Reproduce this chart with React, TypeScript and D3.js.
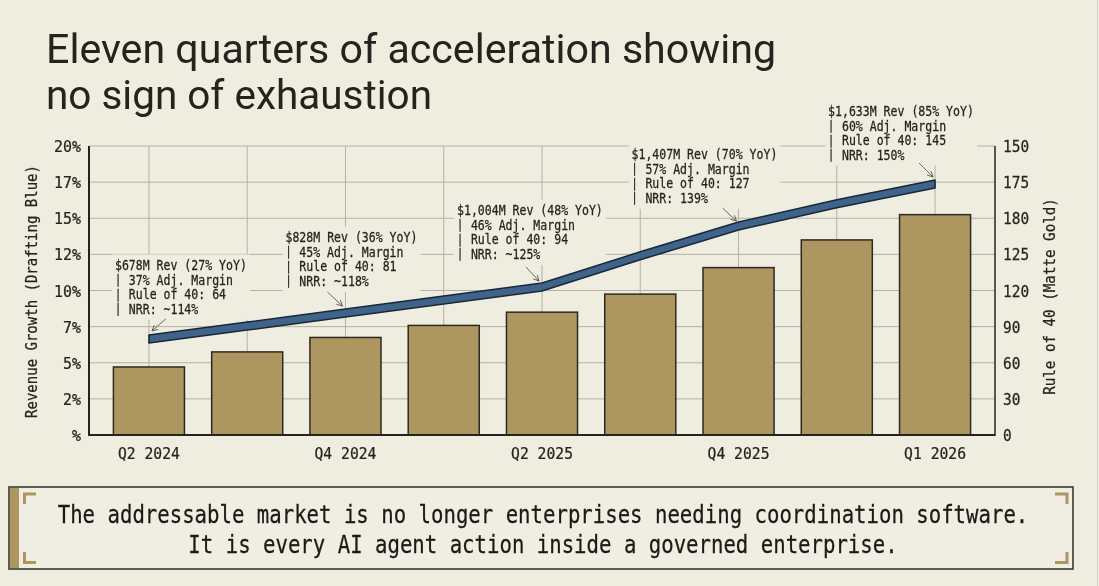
import { useEffect } from 'react'
import * as d3 from 'd3'

const quarters = ['Q2 2024', 'Q3 2024', 'Q4 2024', 'Q1 2025', 'Q2 2025', 'Q3 2025', 'Q4 2025', 'Q4b 2025', 'Q1 2026']
const shownQuarters = ['Q2 2024', 'Q4 2024', 'Q2 2025', 'Q4 2025', 'Q1 2026']

// gold bars read against the right axis, blue line against the left one
const ruleOf40 = [56.5, 69, 81, 91, 102, 117, 139, 162, 183]
const revenueGrowth = [6.65, 7.54, 8.44, 9.34, 10.24, 12.4, 14.46, 16.0, 17.37]

const leftTicks = [0, 2.5, 5, 7.5, 10, 12.5, 15, 17.5, 20]
const leftLabels = ['%', '2%', '5%', '7%', '10%', '12%', '15%', '17%', '20%']
const rightTicks = [0, 30, 60, 90, 120, 150, 180, 210, 240]
const rightLabels = ['0', '30', '60', '90', '120', '125', '180', '175', '150']

const calloutQuarters = ['Q2 2024', 'Q4 2024', 'Q2 2025', 'Q4 2025', 'Q1 2026']
const calloutLines = [
  ['$678M Rev (27% YoY)', '| 37% Adj. Margin', '| Rule of 40: 64', '| NRR: ~114%'],
  ['$828M Rev (36% YoY)', '| 45% Adj. Margin', '| Rule of 40: 81', '| NRR: ~118%'],
  ['$1,004M Rev (48% YoY)', '| 46% Adj. Margin', '| Rule of 40: 94', '| NRR: ~125%'],
  ['$1,407M Rev (70% YoY)', '| 57% Adj. Margin', '| Rule of 40: 127', '| NRR: 139%'],
  ['$1,633M Rev (85% YoY)', '| 60% Adj. Margin', '| Rule of 40: 145', '| NRR: 150%'],
]

const titleLines = ['Eleven quarters of acceleration showing', 'no sign of exhaustion']
const takeaway = [
  'The addressable market is no longer enterprises needing coordination software.',
  'It is every AI agent action inside a governed enterprise.',
]

// layout of the callouts relative to their point on the line
const calloutDx = [-34, -60, -85, -107, -107]
const calloutDy = [-69, -71, -72, -67, -68]
const arrowFrom = [[17, -20], [-18, -21], [-16, -20], [-16, -18], [-16, -21]]
const arrowTo = [[3, -8], [-3, -7], [-3, -6], [-2, -5], [-2, -7]]

const W = 1099
const H = 586
const plot = { left: 89, right: 995, top: 146, bottom: 435 }

const BG = '#efece0'
const INK = '#24241f'
const GRID = '#b4b2a5'
const GOLD = '#ae9660'
const BLUE = '#3f6389'
const NAVY = '#18283a'
const MONO = '"DejaVu Sans Mono", monospace'
const MONO_EM = 0.602

// glyphs in the picture are narrower than DejaVu Sans Mono, so squeeze them to a fixed advance
function Mono({ text, advance, x, y, rotate = 0, fontSize, fill = INK, ...rest }: any) {
  const sx = advance / (MONO_EM * fontSize)
  const piped = text.startsWith('| ')
  return (
    <text fontFamily={MONO} fontSize={fontSize} fill={fill} stroke={fill} strokeWidth={0.25}
      transform={`translate(${x},${y}) rotate(${rotate}) scale(${sx},1)`} {...rest}>
      {piped ? (
        <>
          <tspan fontSize={fontSize - 1.5} dy={-1.5}>|</tspan>
          <tspan dx={1.5 * MONO_EM} dy={1.5}>{text.slice(1)}</tspan>
        </>
      ) : text}
    </text>
  )
}

export default function App() {
  useEffect(() => {
    document.body.style.margin = '0'
  }, [])

  const x = d3.scaleBand<string>()
    .domain(quarters)
    .range([plot.left, plot.right])
    .paddingInner(0.277)
    .paddingOuter(0.2485)
  const cx = (q: string) => (x(q) as number) + x.bandwidth() / 2
  const yLeft = d3.scaleLinear().domain([0, 20]).range([plot.bottom, plot.top])
  const yRight = d3.scaleLinear().domain([0, 240]).range([plot.bottom, plot.top])

  const ribbon = d3.area<number>()
    .x((_, i) => cx(quarters[i]))
    .y0(d => yLeft(d) - 4)
    .y1(d => yLeft(d) + 4)

  return (
    <svg width={W} height={H} viewBox={`0 0 ${W} ${H}`}
      style={{ display: 'block', position: 'fixed', left: 0, top: 0, willChange: 'transform' }}>
      <defs>
        <marker id="head" viewBox="0 0 10 10" refX="9" refY="5" markerWidth="7" markerHeight="7" orient="auto">
          <path d="M1,1 L9,5 L1,9" fill="none" stroke="#55554e" strokeWidth="1.2" />
        </marker>
      </defs>
      <rect width={W} height={H} fill={BG} />
      <rect x={W - 2} width={1} height={H} fill="#d6d4ca" />

      {titleLines.map((t, i) => (
        <text key={t} x={46} y={63 + i * 46} fontFamily="Roboto, sans-serif" fontSize={40} fill={INK}
          textLength={i === 0 ? 730 : 386} lengthAdjust="spacingAndGlyphs">
          {t}
        </text>
      ))}

      {/* grid */}
      <g stroke={GRID} strokeWidth={1}>
        {leftTicks.slice(1).map(t => (
          <line key={t} x1={plot.left} x2={plot.right} y1={yLeft(t)} y2={yLeft(t)} />
        ))}
        {quarters.map(q => (
          <line key={q} x1={cx(q)} x2={cx(q)} y1={plot.top} y2={plot.bottom} />
        ))}
      </g>

      {/* callout text knocks the grid out behind it */}
      {calloutQuarters.map((q, i) => {
        const i0 = quarters.indexOf(q)
        const px = cx(q) + calloutDx[i]
        const py = yLeft(revenueGrowth[i0]) + calloutDy[i]
        const w = d3.max(calloutLines[i], l => l.length)! * 6.95
        return <rect key={q} x={px - 3} y={py - 15.5} width={w + 6} height={3 * 14.6 + 21.5} fill={BG} />
      })}

      {quarters.map((q, i) => (
        <rect key={q} x={x(q)} y={yRight(ruleOf40[i])} width={x.bandwidth()} height={plot.bottom - yRight(ruleOf40[i])}
          fill={GOLD} stroke="#2c2a20" strokeWidth={1.5} />
      ))}

      <path d={ribbon(revenueGrowth) as string} fill={BLUE} stroke={NAVY} strokeWidth={1.5} strokeLinejoin="round" />

      {calloutQuarters.map((q, i) => {
        const i0 = quarters.indexOf(q)
        const px = cx(q)
        const py = yLeft(revenueGrowth[i0])
        return (
          <g key={q}>
            <line x1={px + arrowFrom[i][0]} y1={py + arrowFrom[i][1]} x2={px + arrowTo[i][0]} y2={py + arrowTo[i][1]}
              stroke="#6b6b62" strokeWidth={1} markerEnd="url(#head)" />
            {calloutLines[i].map((l, j) => (
              <Mono key={j} text={l} advance={6.95} x={px + calloutDx[i]} y={py + calloutDy[i] + j * 14.6} fontSize={13.5} />
            ))}
          </g>
        )
      })}

      {/* axes */}
      <g stroke={INK} fill="none">
        <line x1={plot.left} x2={plot.left} y1={plot.top} y2={plot.bottom + 1} strokeWidth={2} />
        <line x1={plot.left} x2={plot.right} y1={plot.bottom} y2={plot.bottom} strokeWidth={2} />
        <line x1={plot.right} x2={plot.right} y1={plot.top} y2={plot.bottom + 1} strokeWidth={1.5} />
      </g>

      {leftTicks.map((t, i) => (
        <Mono key={t} text={leftLabels[i]} advance={9} x={81} y={yLeft(t) + 6} textAnchor="end" fontSize={16} />
      ))}
      {rightTicks.map((t, i) => (
        <Mono key={t} text={rightLabels[i]} advance={8.7} x={1003} y={yRight(t) + 6} fontSize={16} />
      ))}
      {shownQuarters.map(q => (
        <Mono key={q} text={q} advance={8.85} x={cx(q)} y={459} textAnchor="middle" fontSize={16} />
      ))}

      <Mono text="Revenue Growth (Drafting Blue)" advance={8.43} x={37} y={291.5} rotate={-90} textAnchor="middle" fontSize={15.5} />
      <Mono text="Rule of 40 (Matte Gold)" advance={8.56} x={1055} y={296.5} rotate={-90} textAnchor="middle" fontSize={15.5} />

      {/* takeaway box */}
      <rect x={9} y={487} width={1064} height={82} fill="#f0ede2" stroke="#3a3a33" strokeWidth={1.6} />
      <rect x={10} y={488} width={9} height={80} fill={GOLD} />
      <g fill="none" stroke={GOLD} strokeWidth={3}>
        <path d="M24.5,504 V494 H36" />
        <path d="M24.5,552 V562.5 H36" />
        <path d="M1067,504 V494 H1055" />
        <path d="M1067,552 V562.5 H1055" />
      </g>
      {takeaway.map((t, i) => (
        <Mono key={t} text={t} advance={12.45} x={543} y={523 + i * 30} textAnchor="middle" fontSize={24.5} fill="#1a1a17" />
      ))}
    </svg>
  )
}
